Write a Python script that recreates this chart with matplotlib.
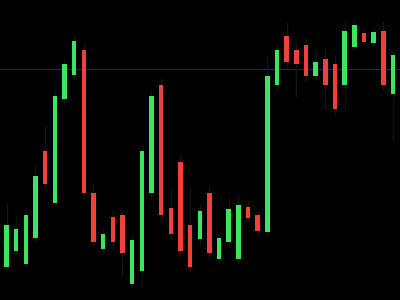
import matplotlib
matplotlib.use("Agg")
import matplotlib.pyplot as plt
import numpy as np

# candle data (price units)
opens = [33, 49, 36, 62, 149, 97, 201, 225, 250, 107,
         51, 83, 85, 16, 29, 107, 215, 92, 138, 75,
         61, 107, 41, 58, 41, 93, 85, 68, 215, 264,
         250, 255, 224, 241, 236, 215, 253, 267, 257, 269, 206]
closes = [75, 71, 85, 124, 116, 204, 236, 259, 107, 58,
          66, 58, 47, 60, 149, 204, 85, 66, 49, 33,
          89, 47, 62, 91, 95, 82, 69, 224, 250, 238,
          236, 224, 238, 215, 191, 269, 275, 258, 268, 215, 245]
highs = [97, 84, 93, 135, 175, 210, 240, 265, 256, 117,
         72, 90, 90, 65, 155, 210, 222, 111, 145, 113,
         95, 115, 68, 102, 105, 100, 88, 244, 256, 278,
         257, 262, 250, 253, 245, 280, 280, 271, 272, 279, 248]
lows = [30, 46, 33, 58, 112, 94, 195, 220, 100, 52,
        46, 50, 24, 12, 13, 100, 78, 60, 43, 28,
        55, 42, 36, 52, 36, 78, 64, 64, 210, 232,
        203, 218, 220, 190, 185, 190, 250, 255, 254, 210, 160]
ref_level = 231

up_color = '#3ae55f'
down_color = '#f0403c'

x = np.arange(len(opens))
o = np.array(opens)
c = np.array(closes)
colors = [up_color if cc >= oo else down_color for oo, cc in zip(o, c)]

fig = plt.figure(figsize=(4, 3), dpi=100, facecolor='black')
ax = fig.add_axes([0, 0, 1, 1])
ax.set_facecolor('black')

ax.axhline(ref_level, color='#20205e', linewidth=1, zorder=1)
ax.vlines(x, lows, highs, color='#141414', linewidth=1, zorder=2)
ax.bar(x, np.abs(c - o), bottom=np.minimum(o, c), width=0.47,
       color=colors, linewidth=0, zorder=3)

ax.set_xlim(-0.673, 40.72)
ax.set_ylim(0, 300)
ax.axis('off')

fig.savefig('out.png', dpi=100, facecolor='black')
